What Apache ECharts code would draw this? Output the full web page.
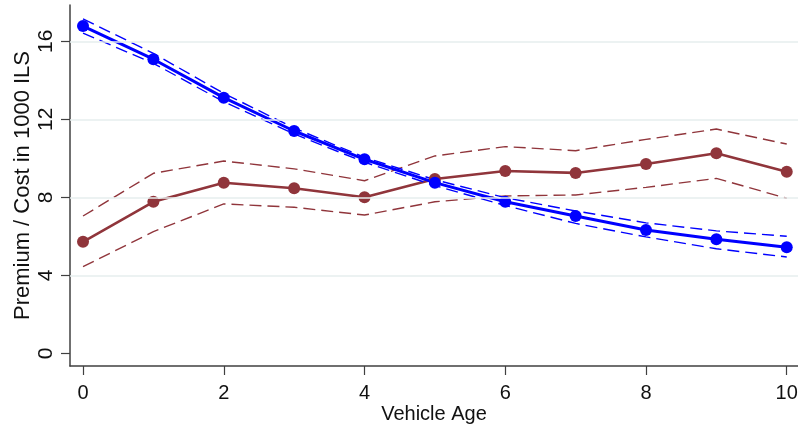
<!DOCTYPE html>
<html>
<head>
<meta charset="utf-8">
<script src="https://cdn.jsdelivr.net/npm/echarts@6/dist/echarts.min.js"></script>
<style>
  html, body { margin: 0; padding: 0; background: #fff; }
  #chart { width: 798px; height: 426px; }
</style>
</head>
<body>
<div id="chart"></div>
<script>
// vehicle age 0..10
var ages = [0, 1, 2, 3, 4, 5, 6, 7, 8, 9, 10];

// blue series (premium) with confidence band
var premium   = [16.78, 15.08, 13.11, 11.40, 9.95, 8.75, 7.77, 7.04, 6.32, 5.85, 5.44];
var premiumHi = [17.15, 15.38, 13.33, 11.55, 10.05, 8.90, 7.98, 7.30, 6.69, 6.28, 6.00];
var premiumLo = [16.42, 14.87, 12.90, 11.25, 9.80, 8.60, 7.58, 6.66, 5.97, 5.36, 4.94];

// maroon series (cost) with confidence band
var cost   = [5.72, 7.77, 8.75, 8.46, 8.00, 8.94, 9.35, 9.25, 9.71, 10.26, 9.31];
var costHi = [7.04, 9.23, 9.86, 9.46, 8.85, 10.12, 10.60, 10.39, 10.97, 11.50, 10.73];
var costLo = [4.44, 6.24, 7.66, 7.49, 7.09, 7.77, 8.07, 8.12, 8.51, 8.97, 7.95];

var xTicks = [0, 2, 4, 6, 8, 10];
var yTicks = [0, 4, 8, 12, 16];
var yGrid = [4, 8, 12, 16];

function pairs(vals) {
    return ages.map(function (a, i) { return [a, vals[i]]; });
}

var blue = '#0000ff';
var maroon = '#90353b';
var axisColor = '#404040';
var font = 'Liberation Sans';

var myChart = echarts.init(document.getElementById('chart'));

function dashed(name, vals, color) {
    return {
        type: 'line',
        name: name,
        data: pairs(vals),
        symbol: 'none',
        silent: true,
        lineStyle: { color: color, width: 1.4, type: [12, 6] }
    };
}

var option = {
    animation: false,
    backgroundColor: '#fff',
    grid: { left: 70, right: 0, top: 5, bottom: 60, outerBoundsMode: 'none', containLabel: false },
    xAxis: {
        type: 'value',
        min: -0.185,
        max: 10.16,
        name: 'Vehicle Age',
        nameLocation: 'middle',
        nameGap: 38,
        nameMoveOverlap: false,
        nameTextStyle: { fontFamily: font, fontSize: 20, color: '#111' },
        axisLine: { show: true, onZero: false, lineStyle: { color: axisColor, width: 1.5 } },
        axisTick: { show: true, customValues: xTicks, length: 9, lineStyle: { color: axisColor, width: 1.2 } },
        axisLabel: { customValues: xTicks, fontFamily: font, fontSize: 20, color: '#111', margin: 17 },
        splitLine: { show: false }
    },
    yAxis: {
        type: 'value',
        min: -0.65,
        max: 17.86,
        name: 'Premium / Cost in 1000 ILS',
        nameLocation: 'middle',
        nameGap: 36,
        nameMoveOverlap: false,
        nameTextStyle: { fontFamily: font, fontSize: 22, color: '#111' },
        axisLine: { show: true, onZero: false, lineStyle: { color: axisColor, width: 1.5 } },
        axisTick: { show: true, customValues: yTicks, length: 9, lineStyle: { color: axisColor, width: 1.2 } },
        axisLabel: { customValues: yTicks, rotate: 90, fontFamily: font, fontSize: 21, color: '#111', margin: 13 },
        splitLine: { show: false }
    },
    series: [
        {
            type: 'line',
            name: 'grid',
            data: [],
            silent: true,
            markLine: {
                silent: true,
                symbol: 'none',
                label: { show: false },
                lineStyle: { color: '#e6eeee', width: 1.5, type: 'solid' },
                data: yGrid.map(function (v) { return { yAxis: v }; })
            }
        },
        dashed('costHi', costHi, maroon),
        dashed('costLo', costLo, maroon),
        {
            type: 'line',
            name: 'Cost',
            data: pairs(cost),
            symbol: 'circle',
            symbolSize: 12,
            itemStyle: { color: maroon },
            lineStyle: { color: maroon, width: 2.6 }
        },
        dashed('premiumHi', premiumHi, blue),
        dashed('premiumLo', premiumLo, blue),
        {
            type: 'line',
            name: 'Premium',
            data: pairs(premium),
            symbol: 'circle',
            symbolSize: 12,
            itemStyle: { color: blue },
            lineStyle: { color: blue, width: 3 }
        }
    ]
};
myChart.setOption(option);
</script>
</body>
</html>
